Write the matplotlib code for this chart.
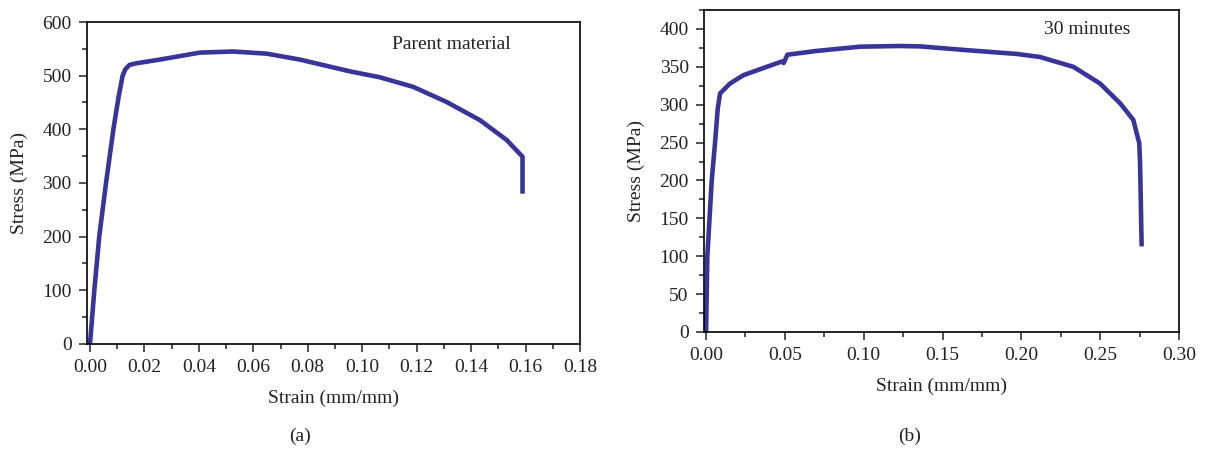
import matplotlib
matplotlib.use("Agg")
import matplotlib.pyplot as plt
from matplotlib.ticker import MultipleLocator, FormatStrFormatter

plt.rcParams['font.family'] = ['Liberation Serif', 'DejaVu Serif']

# Panel (a): Parent material
strain_a = [0.0, 0.0016, 0.0034, 0.0059, 0.0086, 0.0105, 0.012, 0.013, 0.0145, 0.017,
            0.0257, 0.0404, 0.0526, 0.0649, 0.0771, 0.0955, 0.1065, 0.1188, 0.1310,
            0.1433, 0.1531, 0.1589, 0.1589]
stress_a = [0, 100, 200, 300, 400, 460, 500, 512, 520, 523,
            530, 543, 545, 541, 530, 508, 497, 479, 451,
            417, 380, 349, 280]

# Panel (b): 30 minutes
strain_b = [0.0, 0.0008, 0.0036, 0.0057, 0.0074, 0.0089, 0.0152, 0.0237, 0.0385,
            0.0480, 0.0492, 0.0516, 0.0702, 0.0977, 0.1230, 0.1357, 0.1654, 0.1971,
            0.2118, 0.2330, 0.2499, 0.2626, 0.2710, 0.2748, 0.2753, 0.2763]
stress_b = [0, 100, 200, 250, 295, 315, 328, 339, 350,
            357, 355, 366, 371, 376.6, 377.5, 377, 372, 367,
            363, 350, 328, 302, 280, 249, 223, 113]

line_color = '#38359a'
text_color = '#222222'
fs = 14

fig = plt.figure(figsize=(12.08, 4.49), dpi=100)
ax1 = fig.add_axes([0.0720, 0.2339, 0.4081, 0.7171])
ax2 = fig.add_axes([0.5828, 0.2606, 0.3932, 0.7171])

def style(ax):
    for s in ax.spines.values():
        s.set_linewidth(1.2)
    ax.tick_params(which='both', direction='out', top=False, right=False,
                   labelsize=fs, width=1.1, color=text_color, labelcolor=text_color)
    ax.tick_params(which='major', length=6, pad=5)
    ax.tick_params(which='minor', length=3.5)

ax1.plot(strain_a, stress_a, color=line_color, lw=3.3, solid_capstyle='butt')
ax1.set_xlim(-0.0011, 0.18)
ax1.set_ylim(0, 600)
ax1.xaxis.set_major_locator(MultipleLocator(0.02))
ax1.xaxis.set_minor_locator(MultipleLocator(0.01))
ax1.yaxis.set_major_locator(MultipleLocator(100))
ax1.yaxis.set_minor_locator(MultipleLocator(50))
ax1.xaxis.set_major_formatter(FormatStrFormatter('%.2f'))
ax1.set_xlabel('Strain (mm/mm)', fontsize=fs, color=text_color, labelpad=10)
ax1.set_ylabel('Stress (MPa)', fontsize=fs, color=text_color, labelpad=10)
ax1.text(0.618, 0.929, 'Parent material', transform=ax1.transAxes, fontsize=fs,
         color=text_color, va='center', ha='left')
style(ax1)

ax2.plot(strain_b, stress_b, color=line_color, lw=3.3, solid_capstyle='butt')
ax2.set_xlim(-0.0013, 0.30)
ax2.set_ylim(0, 425)
ax2.xaxis.set_major_locator(MultipleLocator(0.05))
ax2.xaxis.set_minor_locator(MultipleLocator(0.025))
ax2.yaxis.set_major_locator(MultipleLocator(50))
ax2.yaxis.set_minor_locator(MultipleLocator(25))
ax2.xaxis.set_major_formatter(FormatStrFormatter('%.2f'))
ax2.set_xlabel('Strain (mm/mm)', fontsize=fs, color=text_color, labelpad=10)
ax2.set_ylabel('Stress (MPa)', fontsize=fs, color=text_color, labelpad=10)
ax2.text(0.716, 0.938, '30 minutes', transform=ax2.transAxes, fontsize=fs,
         color=text_color, va='center', ha='left')
style(ax2)

fig.text(300 / 1208, 1 - 436 / 449, '(a)', fontsize=fs, color=text_color, ha='center', va='center')
fig.text(910 / 1208, 1 - 436 / 449, '(b)', fontsize=fs, color=text_color, ha='center', va='center')

fig.savefig('out.png', dpi=100)
